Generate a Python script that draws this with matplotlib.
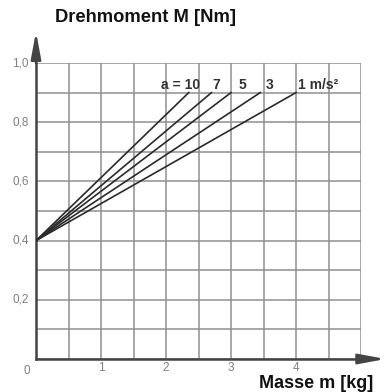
import numpy as np
import matplotlib
matplotlib.use("Agg")
import matplotlib.pyplot as plt

plt.rcParams['font.family'] = ['Liberation Sans', 'DejaVu Sans']

# Beschleunigungen und Endpunkte der Kennlinien (bei M = 0,9 Nm)
accel_labels = ["a = 10", "7", "5", "3", "1 m/s²"]
mass_end = [2.35, 2.7, 3.0, 3.45, 4.0]
label_x = [2.23, 2.77, 3.17, 3.6, 4.03]
m_start = 0.0
M_start = 0.4
M_end = 0.9

x_ticks = [1, 2, 3, 4]
y_ticks = [0.2, 0.4, 0.6, 0.8, 1.0]

fig = plt.figure(figsize=(3.88, 3.92), dpi=100)
ax = fig.add_axes([36/388, 1 - 359/392, (361-36)/388, (359-63)/392])

ax.set_xlim(0, 5)
ax.set_ylim(0, 1.0)
ax.set_xticks(np.arange(0, 5.01, 0.5))
ax.set_yticks(np.arange(0, 1.01, 0.1))
ax.set_xticklabels([])
ax.set_yticklabels([])
ax.tick_params(length=0)
ax.grid(True, color="#8f8f8f", linewidth=1.1)
for s in ["top", "right"]:
    ax.spines[s].set_visible(False)
for s in ["left", "bottom"]:
    ax.spines[s].set_color("#444444")
    ax.spines[s].set_linewidth(1.8)

for m_e in mass_end:
    ax.plot([m_start, m_e], [M_start, M_end], color="#2a2a2a", linewidth=1.2, zorder=3)

for i, (lab, lx) in enumerate(zip(accel_labels, label_x)):
    ax.text(lx, 0.927, lab, ha="left" if i == len(accel_labels) - 1 else "center",
            va="center", fontsize=10, fontweight="bold", color="#333333")

for t in x_ticks:
    ax.text(t, -0.032, str(t), ha="center", va="center", fontsize=8.5, color="#808080")
for t in y_ticks:
    ax.text(-0.24, t, f"{t:.1f}".replace(".", ","), ha="center", va="center",
            fontsize=8.5, color="#808080")
ax.text(-0.14, -0.04, "0", ha="center", va="center", fontsize=8.5, color="#808080")

# Achsenpfeile
ax.annotate("", xy=(0, 1.115), xytext=(0, 0.99), xycoords="data",
            arrowprops=dict(arrowstyle="-|>,head_length=1.6,head_width=0.3",
                            color="#444444", lw=1.8), annotation_clip=False)
ax.annotate("", xy=(5.42, 0), xytext=(4.99, 0), xycoords="data",
            arrowprops=dict(arrowstyle="-|>,head_length=1.6,head_width=0.3",
                            color="#444444", lw=1.8), annotation_clip=False)

fig.text(55/388, 1 - 17/392, "Drehmoment M [Nm]", ha="left", va="center",
         fontsize=13.2, fontweight="bold", color="#111111")
fig.text(373/388, 1 - 383/392, "Masse m [kg]", ha="right", va="center",
         fontsize=13, fontweight="bold", color="#111111")

fig.savefig("out.png", dpi=100)
